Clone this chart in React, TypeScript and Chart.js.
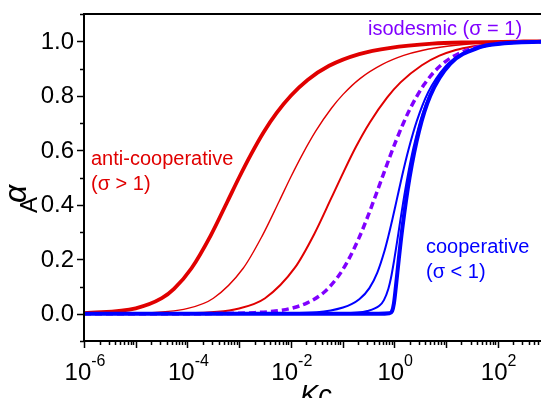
import React, { useEffect, useRef } from 'react';
import { Chart, registerables } from 'chart.js';

Chart.register(...registerables);

// ---- data ----
const xTickExponents = [-6, -4, -2, 0, 2];
const yTickLabels = ['0.0', '0.2', '0.4', '0.6', '0.8', '1.0'];

// anti-cooperative, strongest (thick red)
const redThickKc = [1e-6, 1e-5, 3.2e-5, 5.5e-5, 1.2e-4, 2.8e-4, 5.95e-4, 1e-3, 1.68e-3, 3e-3, 5.32e-3, 1e-2, 2.11e-2, 5.5e-2, 0.21, 0.85, 5.45, 23.5, 312, 1000];
const redThickAlpha = [0.002, 0.02, 0.057, 0.091, 0.167, 0.286, 0.412, 0.5, 0.583, 0.667, 0.737, 0.8, 0.858, 0.91, 0.953, 0.976, 0.991, 0.9957, 0.999, 0.9995];

// anti-cooperative, middle (thin red)
const redMidKc = [1e-6, 1e-5, 1.02e-4, 3.18e-4, 1.2e-3, 2.8e-3, 5.96e-3, 1.0e-2, 1.69e-2, 3.03e-2, 6.1e-2, 0.1025, 0.218, 0.59, 1.53, 3.62, 11.45, 48.2, 316, 1000];
const redMidAlpha = [0.0002, 0.002, 0.0196, 0.057, 0.167, 0.286, 0.413, 0.502, 0.586, 0.67, 0.754, 0.805, 0.863, 0.915, 0.948, 0.967, 0.9825, 0.9927, 0.998, 0.9993];

// anti-cooperative, weakest (red)
const redLowKc = [1e-6, 1e-4, 1e-3, 3.18e-3, 1.2e-2, 2.83e-2, 6.09e-2, 0.104, 0.179, 0.335, 0.726, 1.325, 3.42, 7.51, 15.5, 32.1, 71.5, 193, 370, 1000];
const redLowAlpha = [0, 0.002, 0.0196, 0.057, 0.169, 0.292, 0.425, 0.519, 0.61, 0.701, 0.793, 0.849, 0.912, 0.947, 0.968, 0.981, 0.99, 0.9959, 0.9977, 0.9991];

// isodesmic (dashed violet)
const isoKc = [1e-6, 1e-4, 5e-4, 2e-3, 5.05e-3, 1.02e-2, 2.08e-2, 4.34e-2, 8.09e-2, 0.1235, 0.2076, 0.3125, 0.444, 0.612, 0.828, 1.111, 1.488, 2.0, 3.75, 7.78, 20, 51.5, 144, 380, 1000];
const isoAlpha = [0, 0.0002, 0.001, 0.004, 0.01, 0.02, 0.04, 0.078, 0.135, 0.19, 0.2775, 0.36, 0.4375, 0.51, 0.5775, 0.64, 0.6975, 0.75, 0.84, 0.91, 0.96, 0.983, 0.9936, 0.9975, 0.999];

// cooperative, weak (thin blue)
const blueWeakKc = [1e-6, 1e-2, 0.1023, 0.211, 0.331, 0.471, 0.65, 0.767, 0.915, 1.116, 1.408, 1.875, 2.72, 4.54, 9.81, 19.8, 38.9, 109, 246, 690, 1000];
const blueWeakAlpha = [0, 0.002, 0.023, 0.053, 0.094, 0.151, 0.231, 0.283, 0.344, 0.417, 0.503, 0.6, 0.706, 0.813, 0.908, 0.953, 0.9755, 0.991, 0.996, 0.9986, 0.999];

// cooperative, medium (thin blue)
const blueMidKc = [1e-6, 0.1, 0.303, 0.515, 0.632, 0.771, 0.863, 0.992, 1.109, 1.29, 1.482, 1.791, 2.348, 3.54, 6.95, 11.74, 25.5, 100, 399, 1000];
const blueMidAlpha = [0, 0.0023, 0.0103, 0.029, 0.05, 0.092, 0.13, 0.194, 0.2515, 0.333, 0.406, 0.4975, 0.608, 0.735, 0.862, 0.917, 0.9615, 0.99, 0.9975, 0.999];

// cooperative, strong (thick blue)
const blueStrongKc = [1e-6, 0.5, 0.8, 0.909, 0.988, 1.078, 1.225, 1.423, 1.98, 3.02, 4.98, 12.07, 45.4, 101, 1000];
const blueStrongAlpha = [0, 0.0002, 0.002, 0.0098, 0.0385, 0.1, 0.2, 0.308, 0.5, 0.671, 0.8, 0.917, 0.978, 0.99, 0.999];

const RED = '#E00000';
const BLUE = '#0000FF';
const VIOLET = '#8000FF';
const FONT = '"Liberation Sans", Arial, Helvetica, sans-serif';

function pts(kc: number[], al: number[]) {
  return kc.map((k, i) => ({ x: k, y: al[i] }));
}

const decorPlugin = {
  id: 'decor',
  afterDraw(chart: any) {
    const { ctx, chartArea: ca, scales } = chart;
    const xs = scales.x;
    const ys = scales.y;
    ctx.save();
    ctx.strokeStyle = '#000';
    ctx.fillStyle = '#000';

    // frame: left, bottom, top
    ctx.lineWidth = 2;
    ctx.beginPath();
    ctx.moveTo(ca.left, ca.top);
    ctx.lineTo(ca.left, ca.bottom);
    ctx.moveTo(ca.left - 1, ca.bottom);
    ctx.lineTo(ca.right, ca.bottom);
    ctx.moveTo(ca.left - 1, ca.top);
    ctx.lineTo(ca.right, ca.top);
    ctx.stroke();

    // y ticks
    ctx.lineWidth = 1.5;
    for (let i = -1; i <= 11; i++) {
      const v = i / 10;
      const py = Math.round(ys.getPixelForValue(v)) + 0.5;
      const len = i % 2 === 0 ? 7 : 4;
      ctx.beginPath();
      ctx.moveTo(ca.left, py);
      ctx.lineTo(ca.left - len, py);
      ctx.stroke();
    }
    // x ticks
    const xmax = xs.max;
    for (let e = -6; e <= 3; e++) {
      for (let k = 1; k <= 9; k++) {
        const v = k * Math.pow(10, e);
        if (v > xmax) break;
        const px = Math.round(xs.getPixelForValue(v)) + 0.5;
        const len = k === 1 ? 7 : 4;
        ctx.beginPath();
        ctx.moveTo(px, ca.bottom);
        ctx.lineTo(px, ca.bottom + len);
        ctx.stroke();
      }
    }

    // y tick labels
    ctx.font = `24px ${FONT}`;
    ctx.textAlign = 'right';
    ctx.textBaseline = 'middle';
    yTickLabels.forEach((t) => {
      const py = ys.getPixelForValue(parseFloat(t));
      ctx.fillText(t, ca.left - 10, py + 1);
    });

    // x tick labels: 10^e
    ctx.textBaseline = 'alphabetic';
    ctx.textAlign = 'left';
    xTickExponents.forEach((e) => {
      const px = xs.getPixelForValue(Math.pow(10, e));
      ctx.font = `24px ${FONT}`;
      const w1 = ctx.measureText('10').width;
      ctx.font = `16px ${FONT}`;
      const sup = String(e);
      const w2 = ctx.measureText(sup).width;
      const x0 = px - (w1 + w2) / 2 + 1;
      ctx.font = `24px ${FONT}`;
      ctx.fillText('10', x0, 380);
      ctx.font = `16px ${FONT}`;
      ctx.fillText(sup, x0 + w1, 366);
    });

    // x axis title
    ctx.font = `italic 27px ${FONT}`;
    ctx.textAlign = 'center';
    ctx.fillText('Kc', 316, 404);

    // y axis title (rotated)
    ctx.save();
    ctx.translate(28, 197);
    ctx.rotate(-Math.PI / 2);
    ctx.textAlign = 'left';
    ctx.font = `24px ${FONT}`;
    ctx.fillText('A', -16, 9);
    ctx.font = `italic 32px ${FONT}`;
    ctx.fillText('\u03B1', -6, -2);
    ctx.restore();

    // annotations
    ctx.textAlign = 'left';
    ctx.font = `20px ${FONT}`;
    ctx.fillStyle = RED;
    ctx.fillText('anti-cooperative', 91, 165);
    ctx.fillText('(\u03C3 > 1)', 91, 190);
    ctx.fillStyle = VIOLET;
    ctx.fillText('isodesmic (\u03C3 = 1)', 368, 35);
    ctx.fillStyle = BLUE;
    ctx.fillText('cooperative', 426, 253);
    ctx.fillText('(\u03C3 < 1)', 426, 278);
    ctx.restore();
  },
};

export default function App() {
  const ref = useRef<HTMLCanvasElement>(null);
  useEffect(() => {
    const canvas = ref.current;
    if (!canvas) return;
    const common = { pointRadius: 0, fill: false, cubicInterpolationMode: 'monotone' as const, tension: 0 };
    const chart = new Chart(canvas, {
      type: 'line',
      data: {
        datasets: [
          { ...common, data: pts(blueStrongKc, blueStrongAlpha), borderColor: BLUE, borderWidth: 4 },
          { ...common, data: pts(blueMidKc, blueMidAlpha), borderColor: BLUE, borderWidth: 2 },
          { ...common, data: pts(blueWeakKc, blueWeakAlpha), borderColor: BLUE, borderWidth: 2 },
          { ...common, data: pts(isoKc, isoAlpha), borderColor: VIOLET, borderWidth: 3.5, borderDash: [7, 4] },
          { ...common, data: pts(redLowKc, redLowAlpha), borderColor: RED, borderWidth: 2 },
          { ...common, data: pts(redMidKc, redMidAlpha), borderColor: RED, borderWidth: 1.4 },
          { ...common, data: pts(redThickKc, redThickAlpha), borderColor: RED, borderWidth: 3.8 },
        ],
      },
      options: {
        responsive: false,
        animation: false,
        devicePixelRatio: 1,
        parsing: false as any,
        normalized: true,
        layout: { padding: { top: 14, left: 0, right: 0, bottom: 0 } },
        plugins: { legend: { display: false }, tooltip: { enabled: false } },
        scales: {
          x: {
            type: 'logarithmic',
            min: 1e-6,
            max: 690,
            grid: { display: false },
            border: { display: false },
            ticks: { display: false },
            afterFit: (s: any) => { s.height = 57; },
          },
          y: {
            type: 'linear',
            min: -0.1,
            max: 1.1,
            grid: { display: false },
            border: { display: false },
            ticks: { display: false },
            afterFit: (s: any) => { s.width = 84; },
          },
        },
      },
      plugins: [decorPlugin],
    });
    return () => chart.destroy();
  }, []);
  return (
    <div style={{ position: 'fixed', left: 0, top: 0, width: 541, height: 398, background: '#fff' }}>
      <canvas ref={ref} width={541} height={398} style={{ display: 'block', width: 541, height: 398 }} />
    </div>
  );
}
